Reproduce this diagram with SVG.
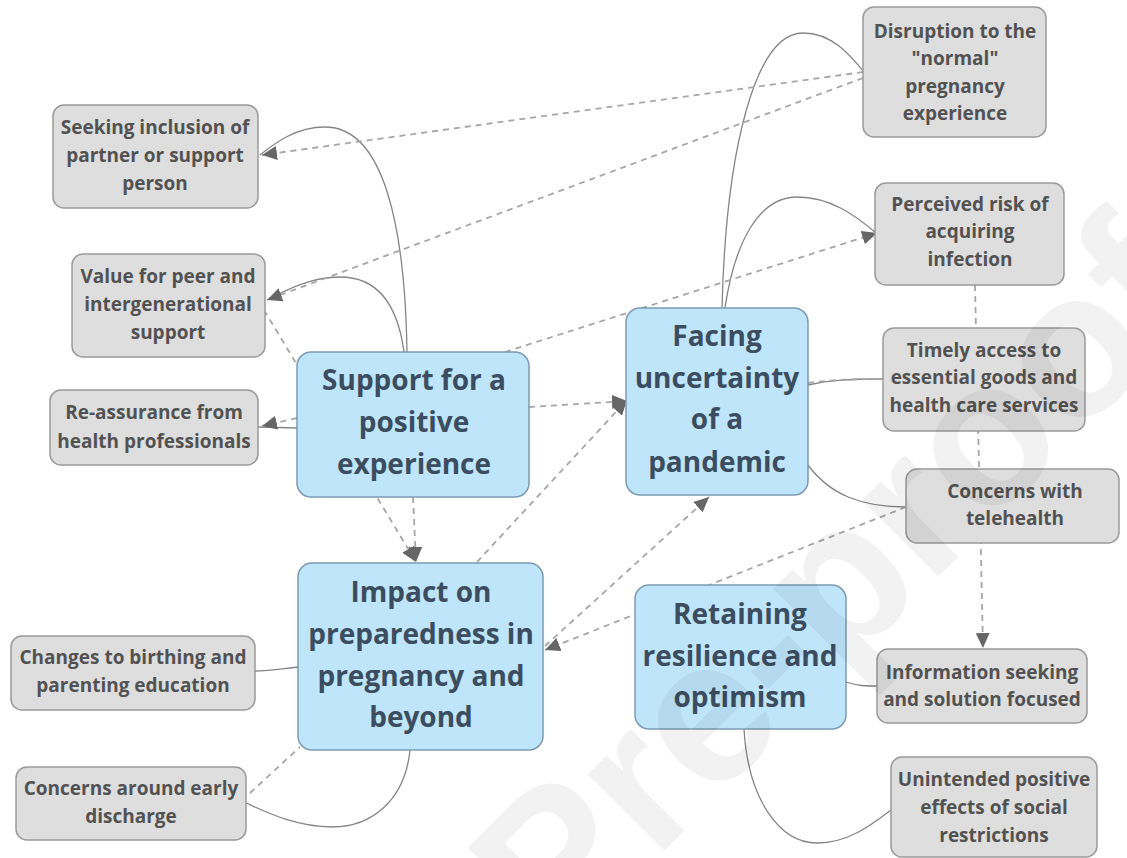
<svg xmlns="http://www.w3.org/2000/svg" width="1127" height="858" viewBox="0 0 1127 858">
<style>
.g rect{fill:#dedede;stroke:#9a9a9a;stroke-width:1.5}
.b rect{fill:#bfe5fb;stroke:#7c9bb3;stroke-width:1.5}
.g text{font-family:"Open Sans","Noto Sans",sans-serif;font-weight:bold;font-size:19px;fill:#525252;text-anchor:middle}
.b text{font-family:"Open Sans","Noto Sans",sans-serif;font-weight:bold;font-size:28px;fill:#3b4d5e;text-anchor:middle}
.sol{fill:none;stroke:#858585;stroke-width:1.3}
.dash{fill:none;stroke:#a6a6a6;stroke-width:1.8;stroke-dasharray:6 5}
.arr{marker-end:url(#ah)}
.wm{font-family:"Liberation Sans",Arial,sans-serif;font-weight:bold;font-size:205px;fill:#000;fill-opacity:0.05}
</style>
<defs>
<marker id="ah" markerUnits="userSpaceOnUse" markerWidth="16" markerHeight="14" refX="15" refY="7" orient="auto">
<path d="M0,0 L15,7 L0,14 z" fill="#666"/>
</marker>
</defs>
<rect width="1127" height="858" fill="#fff"/>
<g id="connectors">
<path class="sol" d="M407,352 C405,230 385,127 325,127 C295,127 274,144 260,155"/>
<path class="sol" d="M404,352 C397,300 375,277 340,277 C312,277 288,289 267,300"/>
<path class="sol" d="M297,428 L258,427"/>
<path class="sol" d="M722,308 C726,150 755,33 803,33 C832,33 850,55 864,72"/>
<path class="sol" d="M725,308 C735,240 760,197 797,197 C830,197 855,215 876,233"/>
<path class="sol" d="M808,385 C830,380 850,379 883,379"/>
<path class="sol" d="M808,465 C830,495 862,507 906,507"/>
<path class="sol" d="M298,667 C280,669 270,671 255,671"/>
<path class="sol" d="M410,750 C405,800 372,827 332,827 C296,827 266,812 246,803"/>
<path class="sol" d="M846,682 C858,686 866,686 877,686"/>
<path class="sol" d="M744,729 C748,800 780,843 817,843 C850,843 875,822 891,810"/>
<path class="dash arr" d="M863,72 L262,155"/>
<path class="dash arr" d="M863,78 L267,300"/>
<path class="dash arr" d="M505,352 L877,233"/>
<path class="dash arr" d="M264,310 L416,562"/>
<path class="dash arr" d="M413,497 L416,562"/>
<path class="dash arr" d="M529,407 L627,401"/>
<path class="dash arr" d="M477,562 L627,400"/>
<path class="dash arr" d="M545,646 L709,497"/>
<path class="dash arr" d="M906,507 L545,650"/>
<path class="dash arr" d="M975,285 L983,648"/>
<path class="dash arr" d="M297,418 L262,426"/>
<path class="dash" d="M808,383 C830,380 850,379 883,379"/>
<path class="dash" d="M250,793 L300,747"/>
</g>
<g id="n-seeking" class="g"><rect x="53" y="105" width="205" height="103" rx="11"/><text x="155" y="134">Seeking inclusion of</text><text x="155" y="162">partner or support</text><text x="155" y="190">person</text></g>
<g id="n-value" class="g"><rect x="72" y="254" width="193" height="103" rx="11"/><text x="168" y="283">Value for peer and</text><text x="168" y="311">intergenerational</text><text x="168" y="339">support</text></g>
<g id="n-reassurance" class="g"><rect x="50" y="390" width="208" height="75" rx="11"/><text x="154" y="419">Re-assurance from</text><text x="154" y="448">health professionals</text></g>
<g id="n-disruption" class="g"><rect x="863" y="7" width="183" height="130" rx="11"/><text x="955" y="38">Disruption to the</text><text x="955" y="65">"normal"</text><text x="955" y="93">pregnancy</text><text x="955" y="120">experience</text></g>
<g id="n-perceived" class="g"><rect x="875" y="183" width="189" height="102" rx="11"/><text x="970" y="211">Perceived risk of</text><text x="970" y="238">acquiring</text><text x="970" y="266">infection</text></g>
<g id="n-timely" class="g"><rect x="883" y="328" width="202" height="103" rx="11"/><text x="984" y="357">Timely access to</text><text x="984" y="384">essential goods and</text><text x="984" y="412">health care services</text></g>
<g id="n-telehealth" class="g"><rect x="906" y="469" width="213" height="74" rx="11"/><text x="1015" y="498">Concerns with</text><text x="1015" y="525">telehealth</text></g>
<g id="n-info" class="g"><rect x="877" y="649" width="210" height="74" rx="11"/><text x="982" y="679">Information seeking</text><text x="982" y="706">and solution focused</text></g>
<g id="n-unintended" class="g"><rect x="891" y="757" width="206" height="100" rx="11"/><text x="994" y="786">Unintended positive</text><text x="994" y="814">effects of social</text><text x="994" y="842">restrictions</text></g>
<g id="n-changes" class="g"><rect x="11" y="636" width="244" height="74" rx="11"/><text x="133" y="664">Changes to birthing and</text><text x="133" y="692">parenting education</text></g>
<g id="n-discharge" class="g"><rect x="16" y="767" width="230" height="73" rx="11"/><text x="131" y="795">Concerns around early</text><text x="131" y="823">discharge</text></g>
<g id="n-support" class="b"><rect x="297" y="352" width="232" height="145" rx="14"/><text x="414" y="390">Support for a</text><text x="414" y="432">positive</text><text x="414" y="474">experience</text></g>
<g id="n-facing" class="b"><rect x="626" y="308" width="182" height="187" rx="14"/><text x="717" y="346">Facing</text><text x="717" y="388">uncertainty</text><text x="717" y="429">of a</text><text x="717" y="472">pandemic</text></g>
<g id="n-impact" class="b"><rect x="298" y="563" width="245" height="187" rx="14"/><text x="421" y="602">Impact on</text><text x="421" y="644">preparedness in</text><text x="421" y="686">pregnancy and</text><text x="421" y="727">beyond</text></g>
<g id="n-retaining" class="b"><rect x="635" y="585" width="211" height="144" rx="14"/><text x="740" y="624">Retaining</text><text x="740" y="666">resilience and</text><text x="740" y="707">optimism</text></g>
<text class="wm" x="1210" y="305" text-anchor="end" transform="rotate(-45 1210 305)">Journal Pre-proof</text>
</svg>
